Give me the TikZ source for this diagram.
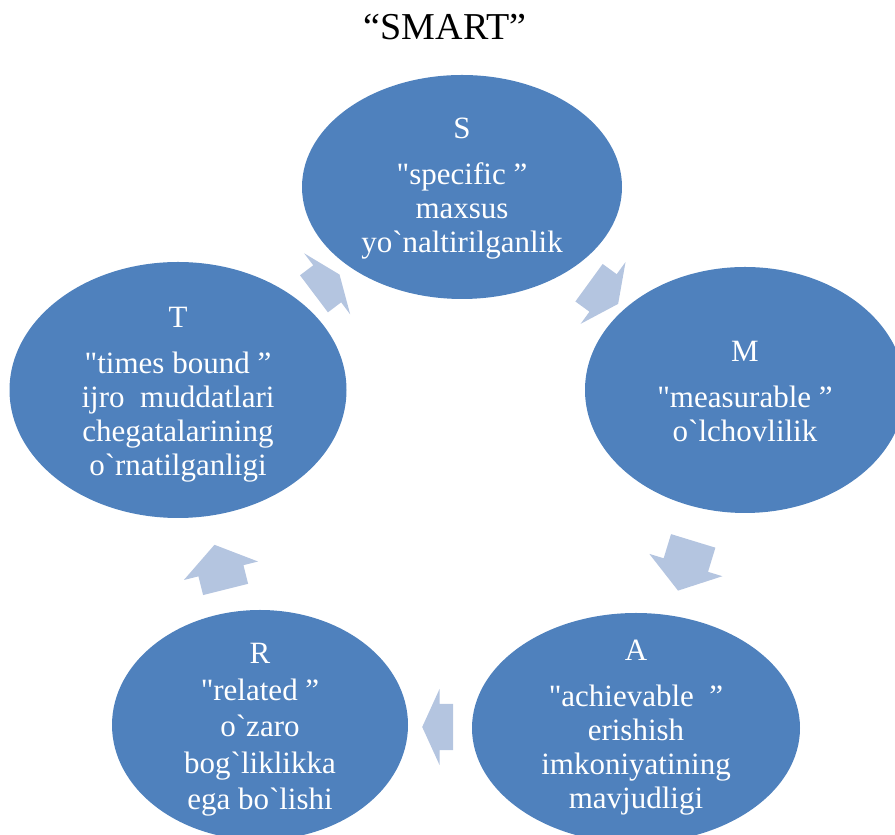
\documentclass[tikz,border=0pt]{standalone}
\usepackage{fontspec}
\setmainfont{Liberation Serif}[Ligatures=TeXOff]
\usetikzlibrary{shapes.geometric,shapes.arrows}

\definecolor{goalblue}{RGB}{79,129,189}
\definecolor{turnblue}{RGB}{180,197,224}

\tikzset{
  goal/.style={ellipse, fill=goalblue, inner sep=0pt},
  goaltext/.style={text=white, align=center, font=\fontsize{31}{34}\selectfont},
  turn/.style={single arrow, fill=turnblue, inner xsep=0pt, inner ysep=23pt,
    minimum width=76pt, single arrow head extend=15pt, single arrow tip angle=110},
}

\begin{document}
\begin{tikzpicture}[x=1pt,y=1pt]
\useasboundingbox (0,0) rectangle (895,835);

\node[font=\fontsize{38}{44}\selectfont, anchor=base] (title) at (445,795) {“SMART”};

\node[goal, minimum width=320pt, minimum height=224pt] (S) at (462,648) {};
\node[goal, minimum width=320pt, minimum height=246pt] (M) at (745,445) {};
\node[goal, minimum width=328pt, minimum height=230pt] (A) at (636,107) {};
\node[goal, minimum width=296pt, minimum height=230pt] (R) at (260,110) {};
\node[goal, minimum width=337pt, minimum height=256pt] (T) at (178,445) {};

\node[goaltext] (S-txt) at ([yshift=-2pt]S) {S\\[12pt]"specific ”\\maxsus\\yo`naltirilganlik};
\node[goaltext] (M-txt) at ([yshift=-2pt]M) {M\\[12pt]"measurable ”\\o`lchovlilik};
\node[goaltext] (A-txt) at ([yshift=0pt]A) {A\\[12pt]"achievable~~”\\erishish\\imkoniyatining\\mavjudligi};
\node[goaltext, font=\fontsize{31}{36.5}\selectfont] (R-txt) at ([yshift=-5pt]R) {R\\"related ”\\o`zaro\\bog`liklikka\\ega bo`lishi};
\node[goaltext] (T-txt) at ([yshift=-5pt]T) {T\\[12pt]"times bound ”\\ijro~~muddatlari\\chegatalarining\\o`rnatilganligi};

\node[turn, minimum height=36pt, rotate=-36, single arrow tip angle=128] (sm) at (599,545) {};
\node[turn, minimum height=52pt, rotate=-107] (ma) at (688,277) {};
\node[turn, minimum height=31pt, rotate=180, single arrow tip angle=131] (ar) at (443,108) {};
\node[turn, minimum height=46pt, rotate=104] (rt) at (222,260) {};
\node[turn, minimum height=32pt, rotate=37, single arrow tip angle=136] (ts) at (323,548) {};
\end{tikzpicture}
\end{document}
